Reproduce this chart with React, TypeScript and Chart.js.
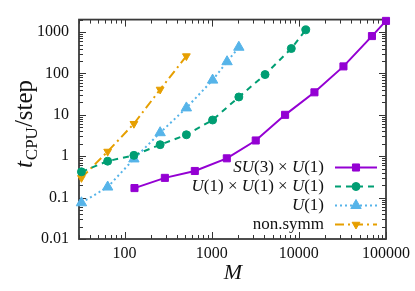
import React, { useEffect, useRef } from 'react';
import { Chart, registerables } from 'chart.js';
import { drawPoint } from 'chart.js/helpers';

Chart.register(...registerables);

// ---- data ----
const su3M = [130, 290, 640, 1490, 3200, 6950, 15100, 32500, 69000, 100000];
const su3T = [0.17, 0.3, 0.44, 0.89, 2.4, 10, 35, 148, 800, 1860];
const u1cubedM = [32, 64, 128, 256, 512, 1024, 2048, 4096, 8192, 12000];
const u1cubedT = [0.42, 0.76, 1.05, 1.9, 3.3, 7.5, 27, 94, 400, 1130];
const u1M = [32, 64, 128, 256, 512, 1024, 1500, 2048];
const u1T = [0.075, 0.18, 0.86, 3.7, 14.7, 69, 192, 430];
const nonSymmM = [32, 64, 128, 256, 512];
const nonSymmT = [0.3, 1.3, 6.1, 41, 263];

const xMajorTicks = [100, 1000, 10000, 100000];
const yMajorTicks = [0.01, 0.1, 1, 10, 100, 1000];
const xMin = 30;
const xMax = 100000;
const yMin = 0.01;
const yMax = 2000;

const FONT = "'Liberation Serif', 'DejaVu Serif', serif";

function logTicks(min: number, max: number): number[] {
  const out: number[] = [];
  for (let k = -3; k <= 6; k++) {
    for (let m = 1; m <= 9; m++) {
      const v = parseFloat((m * Math.pow(10, k)).toPrecision(6));
      if (v >= min * 0.9999 && v <= max * 1.0001) out.push(v);
    }
  }
  return out;
}

type Piece = [string, 'i' | 'n'];
const legendLabels: Piece[][] = [
  [['SU', 'i'], ['(3) \u00d7 ', 'n'], ['U', 'i'], ['(1)', 'n']],
  [['U', 'i'], ['(1) \u00d7 ', 'n'], ['U', 'i'], ['(1) \u00d7 ', 'n'], ['U', 'i'], ['(1)', 'n']],
  [['U', 'i'], ['(1)', 'n']],
  [['non.symm', 'n']],
];

const PURPLE = '#9400d3';
const GREEN = '#009e73';
const BLUE = '#56b4e9';
const ORANGE = '#e69f00';

const decoPlugin = {
  id: 'deco',
  beforeDatasetsDraw(chart: any) {
    const { ctx, chartArea } = chart;
    const { left, right, top, bottom } = chartArea;
    const xs = chart.scales.x;
    const ys = chart.scales.y;
    ctx.save();
    ctx.strokeStyle = '#333';
    ctx.lineWidth = 1;
    ctx.beginPath();
    for (const t of xs.ticks) {
      const px = Math.round(xs.getPixelForValue(t.value)) + 0.5;
      const len = xMajorTicks.includes(t.value) ? 7 : 4;
      ctx.moveTo(px, bottom);
      ctx.lineTo(px, bottom - len);
      ctx.moveTo(px, top);
      ctx.lineTo(px, top + len);
    }
    for (const t of ys.ticks) {
      const py = Math.round(ys.getPixelForValue(t.value)) + 0.5;
      const len = yMajorTicks.includes(t.value) ? 7 : 4;
      ctx.moveTo(left, py);
      ctx.lineTo(left + len, py);
      ctx.moveTo(right, py);
      ctx.lineTo(right - len, py);
    }
    ctx.stroke();
    ctx.lineWidth = 1.8;
    ctx.strokeStyle = '#3a3a3a';
    ctx.strokeRect(left, top, right - left, bottom - top);
    ctx.restore();
  },
  afterDraw(chart: any) {
    const { ctx } = chart;
    ctx.save();
    ctx.fillStyle = '#111';
    // x title
    ctx.font = `italic 22px ${FONT}`;
    ctx.textAlign = 'center';
    ctx.textBaseline = 'alphabetic';
    ctx.fillText('M', 233, 279);
    // y title
    ctx.save();
    ctx.translate(32, 124);
    ctx.rotate(-Math.PI / 2);
    ctx.textAlign = 'left';
    const main = 25;
    const sub = 17;
    const parts: [string, string, number][] = [
      ['t', `italic ${main}px ${FONT}`, 0],
      ['CPU', `${sub}px ${FONT}`, 5],
      ['/step', `${main}px ${FONT}`, 0],
    ];
    let total = 0;
    const widths = parts.map(([s, f]) => {
      ctx.font = f;
      const w = ctx.measureText(s).width;
      total += w;
      return w;
    });
    total += 1;
    let cx = -total / 2;
    parts.forEach(([s, f, dy], i) => {
      ctx.font = f;
      ctx.fillText(s, cx, dy);
      cx += widths[i] + (i === 0 ? 1 : 0);
    });
    ctx.restore();

    // legend
    const rowY0 = 167.5;
    const rowH = 19;
    const textRight = 324;
    const lx0 = 335;
    const lx1 = 377;
    chart.data.datasets.forEach((ds: any, i: number) => {
      const y = rowY0 + i * rowH;
      const pieces = legendLabels[i];
      ctx.textBaseline = 'middle';
      ctx.textAlign = 'left';
      let w = 0;
      const ws = pieces.map(([s, st]) => {
        ctx.font = `${st === 'i' ? 'italic ' : ''}17px ${FONT}`;
        const ww = ctx.measureText(s).width;
        w += ww;
        return ww;
      });
      let x = textRight - w;
      ctx.fillStyle = '#111';
      pieces.forEach(([s, st], k) => {
        ctx.font = `${st === 'i' ? 'italic ' : ''}17px ${FONT}`;
        ctx.fillText(s, x, y);
        x += ws[k];
      });
      ctx.save();
      ctx.strokeStyle = ds.borderColor;
      ctx.lineWidth = ds.borderWidth;
      ctx.setLineDash(ds.borderDash || []);
      ctx.beginPath();
      ctx.moveTo(lx0, y);
      ctx.lineTo(lx1, y);
      ctx.stroke();
      ctx.setLineDash([]);
      ctx.fillStyle = ds.pointBackgroundColor;
      ctx.strokeStyle = ds.pointBorderColor;
      ctx.lineWidth = 1;
      drawPoint(ctx, {
        pointStyle: ds.pointStyle,
        rotation: ds.pointRotation || 0,
        radius: ds.pointRadius,
        borderWidth: 1,
      } as any, (lx0 + lx1) / 2, y);
      ctx.restore();
    });
    ctx.restore();
  },
};

const toXY = (xs: number[], ys: number[]) => xs.map((x, i) => ({ x, y: ys[i] }));

export default function App() {
  const ref = useRef<HTMLCanvasElement>(null);
  useEffect(() => {
    document.body.style.margin = '0';
    const xTickList = logTicks(xMin, xMax);
    const yTickList = logTicks(yMin, yMax);
    const chart = new Chart(ref.current as HTMLCanvasElement, {
      type: 'line',
      data: {
        datasets: [
          {
            label: 'SU(3) x U(1)',
            data: toXY(su3M, su3T),
            borderColor: PURPLE,
            backgroundColor: PURPLE,
            pointBackgroundColor: PURPLE,
            pointBorderColor: PURPLE,
            borderWidth: 2,
            pointStyle: 'rect',
            pointRadius: 5,
            pointBorderWidth: 1,
          },
          {
            label: 'U(1) x U(1) x U(1)',
            data: toXY(u1cubedM, u1cubedT),
            borderColor: GREEN,
            backgroundColor: GREEN,
            pointBackgroundColor: GREEN,
            pointBorderColor: GREEN,
            borderWidth: 2,
            borderDash: [6, 5],
            pointStyle: 'circle',
            pointRadius: 4,
            pointBorderWidth: 1,
          },
          {
            label: 'U(1)',
            data: toXY(u1M, u1T),
            borderColor: BLUE,
            backgroundColor: BLUE,
            pointBackgroundColor: BLUE,
            pointBorderColor: BLUE,
            borderWidth: 2,
            borderDash: [2, 3],
            pointStyle: 'triangle',
            pointRadius: 6,
            pointBorderWidth: 1,
          },
          {
            label: 'non.symm',
            data: toXY(nonSymmM, nonSymmT),
            borderColor: ORANGE,
            backgroundColor: ORANGE,
            pointBackgroundColor: ORANGE,
            pointBorderColor: ORANGE,
            borderWidth: 2,
            borderDash: [9, 4, 2, 4],
            pointStyle: 'triangle',
            pointRotation: 180,
            pointRadius: 4.5,
            pointBorderWidth: 1,
          },
        ] as any,
      },
      options: {
        animation: false,
        responsive: true,
        maintainAspectRatio: false,
        clip: false as any,
        layout: { padding: { top: 16, right: 29, left: 0, bottom: 0 } },
        plugins: { legend: { display: false }, tooltip: { enabled: false } },
        elements: { line: { tension: 0 } },
        scales: {
          x: {
            type: 'logarithmic',
            min: xMin,
            max: xMax,
            grid: { display: false, drawTicks: false },
            border: { display: false },
            afterBuildTicks: (s: any) => {
              s.ticks = xTickList.map((v) => ({ value: v }));
            },
            afterFit: (s: any) => {
              s.height = 52;
            },
            ticks: {
              autoSkip: false,
              maxRotation: 0,
              padding: 5,
              color: '#111',
              font: { family: FONT, size: 16 },
              callback: (v: any) => (xMajorTicks.includes(Number(v)) ? String(v) : ''),
            },
          },
          y: {
            type: 'logarithmic',
            min: yMin,
            max: yMax,
            grid: { display: false, drawTicks: false },
            border: { display: false },
            afterBuildTicks: (s: any) => {
              s.ticks = yTickList.map((v) => ({ value: v }));
            },
            afterFit: (s: any) => {
              s.width = 79;
            },
            ticks: {
              autoSkip: false,
              padding: 10,
              color: '#111',
              font: { family: FONT, size: 16 },
              callback: (v: any) => (yMajorTicks.includes(Number(v)) ? String(v) : ''),
            },
          },
        },
      } as any,
      plugins: [decoPlugin],
    });
    return () => chart.destroy();
  }, []);
  return (
    <div style={{ position: 'fixed', left: 0, top: 0, width: 415, height: 291, background: '#fff' }}>
      <canvas ref={ref} />
    </div>
  );
}
